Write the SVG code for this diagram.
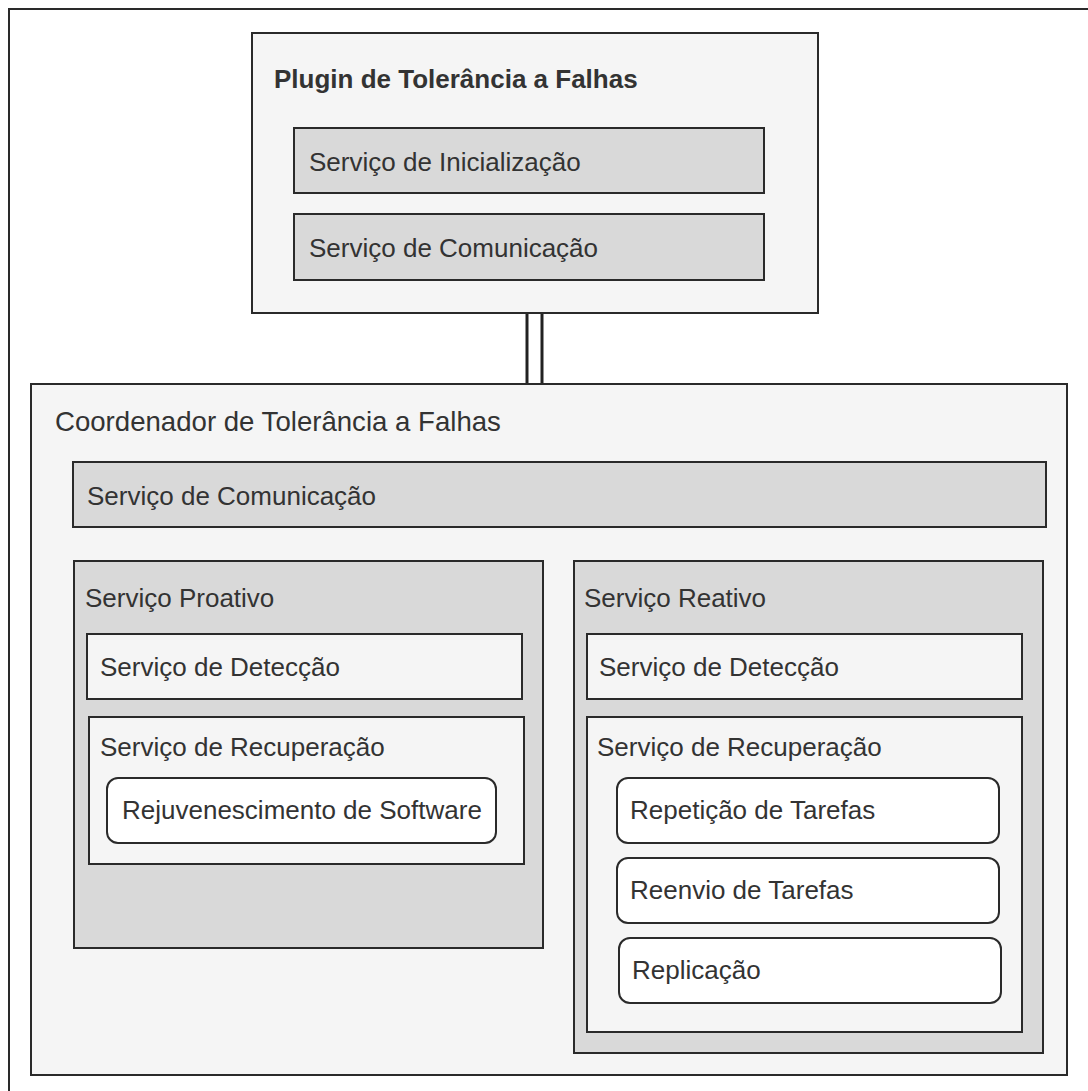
<svg xmlns="http://www.w3.org/2000/svg" width="1088" height="1091" viewBox="0 0 1088 1091">
<style>
  .box { stroke: #2a2a2a; stroke-width: 2; }
  .light { fill: #f5f5f5; }
  .gray { fill: #d9d9d9; }
  .white { fill: #ffffff; }
  text { font-family: "Liberation Sans", Arial, Helvetica, sans-serif; font-size: 26px; fill: #333333; }
  .bold { font-weight: bold; }
  .title { font-size: 27.6px; }
  .link { stroke: #222222; stroke-width: 3; fill: none; }
</style>
<rect x="0" y="0" width="1088" height="1091" fill="#ffffff"/>
<g id="frame">
  <rect x="9" y="9" width="1100" height="1100" fill="#ffffff" stroke="#2a2a2a" stroke-width="2"/>
</g>
<g id="connectors">
  <line class="link" x1="527" y1="313" x2="527" y2="383"/>
  <line class="link" x1="542" y1="313" x2="542" y2="383"/>
</g>
<g id="plugin">
  <rect class="box light" x="252" y="33" width="566" height="280"/>
  <text class="bold" x="274" y="88">Plugin de Tolerância a Falhas</text>
</g>
<g id="plugin-inicializacao">
  <rect class="box gray" x="294" y="128" width="470" height="65"/>
  <text x="309" y="171">Serviço de Inicialização</text>
</g>
<g id="plugin-comunicacao">
  <rect class="box gray" x="294" y="214" width="470" height="66"/>
  <text x="309" y="257">Serviço de Comunicação</text>
</g>
<g id="coordenador">
  <rect class="box light" x="31" y="384" width="1036" height="691"/>
  <text class="title" x="55" y="431">Coordenador de Tolerância a Falhas</text>
</g>
<g id="coord-comunicacao">
  <rect class="box gray" x="73" y="462" width="973" height="65"/>
  <text x="87" y="505">Serviço de Comunicação</text>
</g>
<g id="proativo">
  <rect class="box gray" x="74" y="561" width="469" height="387"/>
  <text x="85" y="607">Serviço Proativo</text>
</g>
<g id="proativo-deteccao">
  <rect class="box light" x="87" y="634" width="435" height="65"/>
  <text x="100" y="676">Serviço de Detecção</text>
</g>
<g id="proativo-recuperacao">
  <rect class="box light" x="89" y="717" width="435" height="147"/>
  <text x="100" y="756">Serviço de Recuperação</text>
</g>
<g id="rejuvenescimento">
  <rect class="box white" x="107" y="778" width="389" height="65" rx="11" ry="11"/>
  <text x="122" y="819">Rejuvenescimento de Software</text>
</g>
<g id="reativo">
  <rect class="box gray" x="574" y="561" width="469" height="492"/>
  <text x="584" y="607">Serviço Reativo</text>
</g>
<g id="reativo-deteccao">
  <rect class="box light" x="587" y="634" width="435" height="65"/>
  <text x="599" y="676">Serviço de Detecção</text>
</g>
<g id="reativo-recuperacao">
  <rect class="box light" x="587" y="717" width="435" height="315"/>
  <text x="597" y="756">Serviço de Recuperação</text>
</g>
<g id="repeticao">
  <rect class="box white" x="617" y="778" width="382" height="65" rx="11" ry="11"/>
  <text x="630" y="819">Repetição de Tarefas</text>
</g>
<g id="reenvio">
  <rect class="box white" x="617" y="858" width="382" height="65" rx="11" ry="11"/>
  <text x="630" y="899">Reenvio de Tarefas</text>
</g>
<g id="replicacao">
  <rect class="box white" x="619" y="938" width="382" height="65" rx="11" ry="11"/>
  <text x="632" y="979">Replicação</text>
</g>
</svg>
